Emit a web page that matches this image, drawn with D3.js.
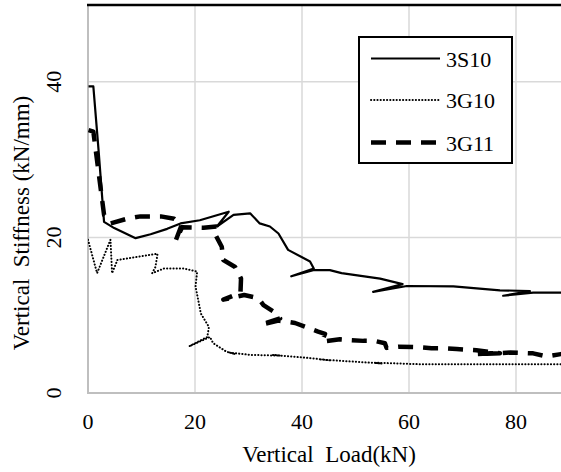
<!DOCTYPE html>
<html>
<head>
<meta charset="utf-8">
<script src="https://cdn.jsdelivr.net/npm/d3@7"></script>
<style>
  body { margin: 0; background: #fff; }
  text { font-family: "Liberation Serif", "Times New Roman", serif; fill: #000; }
</style>
</head>
<body>
<script>
// series: [load kN, stiffness kN/mm]
var s3S10 = [[0.1,39.4],[1.0,39.4],[2.0,31],[3.0,22.0],[4.9,21.2],[8.9,19.9],[11.7,20.4],[14.8,21.1],
  [17.3,21.8],[20.9,22.2],[26.3,23.3],[24.1,21.4],[27.2,22.9],[30.3,23.1],[32.1,21.8],[34.0,21.4],
  [35.6,20.5],[37.4,18.4],[41.5,16.9],[42.2,16.0],[38.0,15.0],[42.1,15.8],[45.2,15.8],[47.4,15.4],
  [54.6,14.7],[58.8,14.0],[53.3,13.0],[59.6,13.75],[68.3,13.7],[77.0,13.2],[82.6,13.1],[77.6,12.5],
  [83.2,12.9],[89.5,12.9]];

var s3G10 = [[0,19.7],[1.7,15.4],[4.2,19.7],[4.5,15.4],[5.5,17.1],[9.2,17.5],[13.0,17.9],[12.6,16.2],
  [12.0,15.4],[14.2,16.0],[17.9,16.0],[20.4,15.6],[20.1,13.7],[21.1,10.2],[22.6,8.5],[22.3,7.2],
  [18.9,6.0],[22.8,7.2],[23.4,6.4],[25.9,5.3],[27.5,5.0],[26.5,5.2],[30.3,4.9],[35.9,4.8],[34.5,4.9],
  [42.1,4.45],[45.2,4.2],[43.5,4.3],[52.7,3.9],[55,3.8],[53.5,3.9],[62,3.7],[74.5,3.7],[89.5,3.7]];

var s3G11 = [[0.1,33.8],[1.0,33.6],[3.0,22.9],[4.2,21.8],[7.3,22.4],[9.8,22.7],[13.6,22.7],[16.1,22.4],
  [17.5,21.6],[16.4,19.6],[17.6,21.3],[21.6,21.25],[24.0,21.4],[23.7,20.5],[25.0,18.8],[25.3,17.1],
  [27.5,16.2],[28.6,14.7],[28.5,12.9],[25.3,12.0],[29.2,12.6],[31.8,12.2],[32.8,11.3],[35.3,10.2],
  [35.9,9.6],[32.4,8.8],[35.6,9.3],[38.7,9.0],[40.6,8.5],[43.0,7.9],[44.3,7.6],[43.7,6.6],[47.1,6.9],
  [49.0,6.8],[51.5,6.7],[53.6,6.7],[55.5,6.4],[55.8,5.8],[58.0,5.95],[61.4,5.9],[64.2,5.75],
  [66.4,5.75],[68.9,5.65],[72.6,5.5],[77.0,5.1],[72.8,5.0],[78.9,5.2],[83.2,5.1],[85.7,4.7],
  [88.4,5.0],[89.5,5.0]];

var seriesNames = ["3S10", "3G10", "3G11"];
var xTicks = [0, 20, 40, 60, 80];
var yTicks = [0, 20, 40];

var width = 561, height = 472;

var svg = d3.select("body").append("svg")
  .attr("width", width)
  .attr("height", height);

var x = d3.scaleLinear().domain([0, 100]).range([88, 623]);
var y = d3.scaleLinear().domain([0, 50]).range([393, 4]);

svg.append("clipPath").attr("id", "plot")
  .append("rect").attr("x", 88).attr("y", 0).attr("width", width - 88).attr("height", 394);

// gridlines
svg.append("g").selectAll("line").data(xTicks.slice(1)).enter().append("line")
  .attr("x1", function(d) { return x(d); }).attr("x2", function(d) { return x(d); })
  .attr("y1", y(50)).attr("y2", y(0))
  .attr("stroke", "#d9d9d9").attr("stroke-width", 1.5);

svg.append("g").selectAll("line").data(yTicks.slice(1)).enter().append("line")
  .attr("x1", x(0)).attr("x2", width)
  .attr("y1", function(d) { return y(d); }).attr("y2", function(d) { return y(d); })
  .attr("stroke", "#d9d9d9").attr("stroke-width", 1.5);

// axis lines
svg.append("line").attr("x1", x(0)).attr("x2", x(0)).attr("y1", y(50)).attr("y2", y(0))
  .attr("stroke", "#bfbfbf").attr("stroke-width", 2);
svg.append("line").attr("x1", x(0) - 1).attr("x2", width).attr("y1", y(0)).attr("y2", y(0))
  .attr("stroke", "#bfbfbf").attr("stroke-width", 2);
svg.append("line").attr("x1", x(0) - 1).attr("x2", width).attr("y1", y(50) + 1).attr("y2", y(50) + 1)
  .attr("stroke", "#000").attr("stroke-width", 2.5);

// tick labels
svg.append("g").selectAll("text").data(xTicks).enter().append("text")
  .attr("x", function(d) { return x(d); })
  .attr("y", 429)
  .attr("text-anchor", "middle")
  .attr("font-size", 22)
  .text(function(d) { return d; });

svg.append("g").selectAll("text").data(yTicks).enter().append("text")
  .attr("transform", function(d) { return "translate(61," + y(d) + ") rotate(-90)"; })
  .attr("text-anchor", "middle")
  .attr("font-size", 22)
  .text(function(d) { return d; });

svg.append("text")
  .attr("x", 329).attr("y", 462)
  .attr("text-anchor", "middle")
  .attr("font-size", 23)
  .style("white-space", "pre")
  .text("Vertical  Load(kN)");

svg.append("text")
  .attr("transform", "translate(29,223) rotate(-90)")
  .attr("text-anchor", "middle")
  .attr("font-size", 23)
  .style("white-space", "pre")
  .text("Vertical  Stiffness (kN/mm)");

// series
var line = d3.line()
  .x(function(d) { return x(d[0]); })
  .y(function(d) { return y(d[1]); });

var styles = [
  { data: s3S10, w: 2.2, dash: null, cap: "butt" },
  { data: s3G10, w: 2, dash: "0.2,3", cap: "round" },
  { data: s3G11, w: 4.5, dash: "15,10", cap: "butt" }
];

var plot = svg.append("g").attr("clip-path", "url(#plot)");
styles.forEach(function(s) {
  plot.append("path")
    .attr("d", line(s.data))
    .attr("fill", "none")
    .attr("stroke", "#000")
    .attr("stroke-width", s.w)
    .attr("stroke-linejoin", "round")
    .attr("stroke-linecap", s.cap)
    .attr("stroke-dasharray", s.dash);
});

// legend
var legend = svg.append("g");
legend.append("rect")
  .attr("x", 359).attr("y", 37).attr("width", 153).attr("height", 126)
  .attr("fill", "#fff").attr("stroke", "#000").attr("stroke-width", 2);

var legendY = [58.5, 100, 142.5];
seriesNames.forEach(function(name, i) {
  legend.append("line")
    .attr("x1", 371).attr("x2", 440)
    .attr("y1", legendY[i]).attr("y2", legendY[i])
    .attr("stroke", "#000")
    .attr("stroke-width", styles[i].w)
    .attr("stroke-linecap", styles[i].cap)
    .attr("stroke-dasharray", styles[i].dash);
  legend.append("text")
    .attr("x", 446).attr("y", legendY[i] + 8)
    .attr("font-size", 22)
    .text(name);
});
</script>
</body>
</html>
